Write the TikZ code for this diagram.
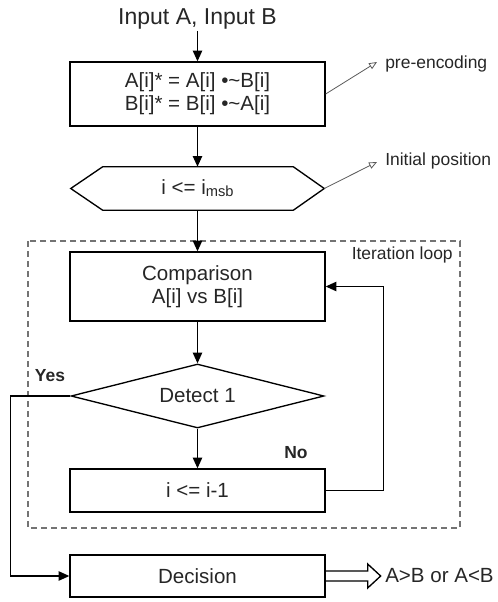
\documentclass[tikz,border=0pt]{standalone}
\usepackage{fontspec}
\setmainfont{Liberation Sans}
\usetikzlibrary{arrows.meta,shapes.geometric,calc}

% font sizes
\newcommand\ttlfont{\fontsize{17.25}{20}\selectfont}
\newcommand\bxfont{\fontsize{15.4}{17.25}\selectfont}
\newcommand\smfont{\fontsize{13.1}{15}\selectfont}
\newcommand\subfont{\fontsize{11}{12}\selectfont}

\tikzset{
  box/.style={draw, line width=1pt, minimum width=191.25pt, inner sep=0pt,
    align=center, font=\bxfont, text=black!85},
  flow/.style={line width=1pt, -{Triangle[length=8pt,width=7pt]}},
  pointer/.style={draw=black!65, line width=0.6pt,
    -{Triangle[open,length=6pt,width=5pt]}},
  note/.style={font=\smfont, text=black!85, inner sep=0pt},
  tag/.style={font=\smfont\bfseries, text=black!85, inner sep=0pt},
}

\begin{document}
\begin{tikzpicture}[x=0.75pt,y=-0.75pt]
\useasboundingbox (0,0) rectangle (497,602);

% title
\node[font=\ttlfont, text=black!85, inner sep=1pt] (title) at (197.5,19) {Input A, Input B};

% pre-encoding box
\node[box, minimum height=48pt] (enc) at (197.5,94)
  {A[i]* = A[i] •\textasciitilde B[i]\\B[i]* = B[i] •\textasciitilde A[i]};

% initial position (hexagon)
\node[minimum width=189.75pt, minimum height=32.25pt, inner sep=0pt,
      font=\bxfont, text=black!85] (hex) at (197.5,188.5)
  {i <= i\raisebox{-1.5pt}{\subfont msb}};
\draw[line width=1pt, line join=miter]
  (hex.west) -- ($(hex.north west)+(32,0)$) -- ($(hex.north east)+(-31,0)$)
  -- (hex.east) -- ($(hex.south east)+(-31,0)$) -- ($(hex.south west)+(32,0)$)
  -- cycle;

% iteration loop frame
\draw[draw=black!55, line width=0.8pt, dash pattern=on 4.5pt off 3pt]
  (28,241) rectangle (460,528);
\node[note, anchor=east] (looplbl) at (453,255) {Iteration loop};

% loop body
\node[box, minimum height=51.75pt] (comp) at (197.5,286.5)
  {Comparison\\A[i] vs B[i]};
\node[draw, diamond, line width=1pt, aspect=3.95, inner sep=0pt,
      minimum width=189.75pt, minimum height=48pt,
      font=\bxfont, text=black!85] (dia) at (197.5,396) {Detect 1};
\node[box, minimum height=32.25pt] (dec) at (197.5,490.5) {i <= i-1};

% decision
\node[box, minimum height=31.5pt] (decision) at (197.5,576) {Decision};

% main flow
\draw[flow] (title.south) -- (enc.north);
\draw[flow] (enc.south) -- (hex.north);
\draw[flow] (hex.south) -- (comp.north);
\draw[flow] (comp.south) -- (dia.north);
\draw[flow] (dia.south) -- (dec.north);
\draw[flow] (dec.east) -- ++(58,0) |- (comp.east);
\draw[flow] (dia.west) -- ++(-60,0) |- (decision.west);

\node[tag] (yes) at (50,376) {Yes};
\node[tag] (no) at (296,453) {No};

% annotations
\node[note, anchor=west] (enclbl) at (385,64) {pre-encoding};
\coordinate (encTip) at (377,62);
\draw[pointer] (enc.east) -- (encTip);
\node[note, anchor=west] (poslbl) at (385,161) {Initial position};
\coordinate (posTip) at (377,162);
\draw[pointer] (hex.east) -- (posTip);

% result (outlined double arrow)
\draw[line width=1pt, line join=miter]
  ($(decision.east)+(0,-5)$) -- ++(42,0) -- ++(0,-7) -- ++(13,12)
  -- ++(-13,12) -- ++(0,-7) -- ($(decision.east)+(0,5)$);
\node[font=\bxfont, text=black!85, anchor=west, inner sep=0pt] (res) at (385,576) {A>B or A<B};
\end{tikzpicture}
\end{document}
